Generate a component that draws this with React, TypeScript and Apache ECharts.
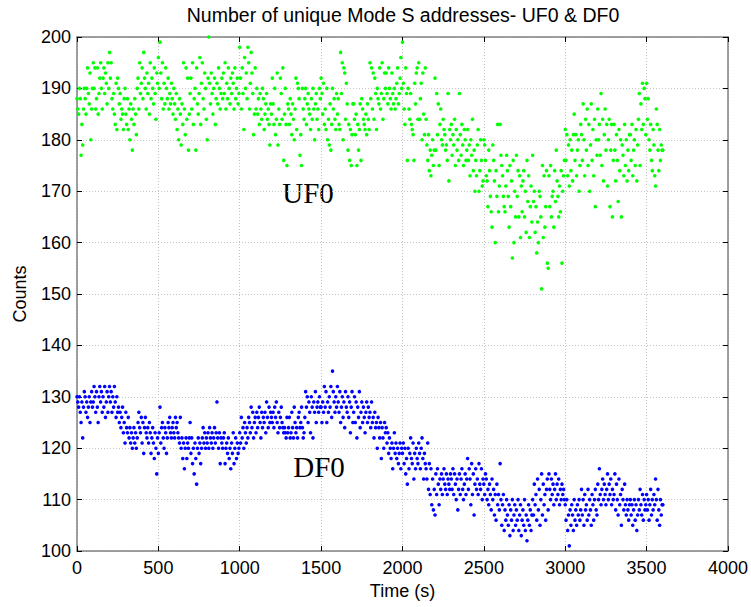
import React, { useEffect, useRef } from "react";
import * as echarts from "echarts";

// Sampling interval of the counts (seconds)
const SAMPLE_INTERVAL = 5;

// X axis tick values (s) and Y axis ticks (counts)
const xTicks = [0, 500, 1000, 1500, 2000, 2500, 3000, 3500, 4000];
const yTicks = [100, 110, 120, 130, 140, 150, 160, 170, 180, 190, 200];

// UF0 counts, one row per 100 s
const uf0Counts = [
  188,186,185,190,188,177,183,179,186,190,188,185,190,194,189,187,193,180,186,190,
  195,190,194,186,188,194,185,189,192,195,190,186,192,194,189,193,191,187,195,190,
  197,192,195,188,186,189,185,183,191,182,192,190,187,189,184,186,185,182,188,190,
  185,183,188,182,186,180,187,184,178,186,183,188,185,181,190,192,186,195,189,191,
  194,188,197,192,190,186,193,189,191,185,195,188,192,190,187,194,189,184,193,191,
  196,190,199,193,188,195,186,191,187,194,190,188,192,186,189,187,191,188,185,190,
  187,184,189,182,186,180,188,185,179,187,183,195,186,181,194,184,192,178,185,189,
  192,186,195,183,188,190,178,194,187,185,189,196,183,191,195,188,186,193,190,184,
  180,192,200,191,187,193,189,185,190,192,183,188,191,187,194,190,186,189,192,188,
  193,189,195,186,191,188,194,190,187,192,189,193,191,186,194,188,190,192,187,189,
  198,192,186,194,189,182,196,190,193,188,198,195,186,191,197,193,189,181,185,194,
  186,190,185,188,183,189,186,184,190,188,182,185,187,189,184,186,183,179,187,185,
  192,187,183,190,181,184,193,179,186,183,192,189,184,194,176,185,190,183,175,187,
  186,183,188,185,181,187,184,180,186,192,182,191,190,188,177,181,175,190,186,184,
  188,190,183,187,189,186,185,182,188,184,190,186,180,187,189,184,186,182,190,188,
  192,189,185,191,183,186,182,190,180,184,179,187,178,183,190,186,188,184,182,189,
  185,188,183,182,197,189,195,180,194,193,184,191,187,178,183,176,182,175,181,187,
  187,184,181,185,175,183,178,182,187,176,188,186,184,183,182,185,181,187,184,182,
  195,188,194,186,193,184,192,189,182,190,188,187,194,186,189,195,184,188,193,190,
  193,189,187,194,190,188,186,193,189,187,190,186,188,191,194,187,189,192,196,190,
  199,191,186,183,194,189,176,190,186,184,189,183,182,181,176,191,187,193,194,184,
  195,184,188,191,180,193,185,181,194,184,179,176,181,174,178,173,177,180,175,178,
  192,178,189,181,187,175,183,186,180,179,184,182,181,178,179,176,189,172,182,180,
  183,177,181,179,184,175,182,178,180,176,189,181,177,183,179,175,182,180,176,178,
  182,176,179,173,180,177,184,174,178,170,176,173,179,182,170,174,180,176,171,172,
  180,179,176,173,172,167,178,174,169,166,163,179,176,172,160,174,169,183,166,171,
  183,177,175,173,169,167,166,171,177,174,169,163,175,167,172,157,176,160,170,165,
  177,169,174,165,173,161,171,166,172,174,165,170,162,176,168,173,161,167,171,164,
  177,168,170,162,167,158,164,160,170,169,165,151,175,161,173,163,167,174,156,155,
  173,167,175,165,169,170,163,174,168,178,172,169,165,171,166,174,156,170,173,176,
  182,176,181,173,179,171,180,174,178,172,181,185,176,181,173,178,180,170,175,183,
  181,176,187,180,173,184,178,186,175,183,170,179,187,176,182,173,184,167,180,177,
  186,180,183,177,189,175,184,172,181,186,178,183,171,180,184,167,178,183,165,176,
  183,178,172,181,176,168,182,174,180,165,179,177,173,183,175,180,172,178,174,181,
  181,176,183,173,178,180,175,182,172,179,184,189,175,187,182,191,183,190,188,181,
  191,184,188,180,178,183,176,174,182,179,173,171,186,183,178,174,182,176,179,178,
  178,
];

// DF0 counts, one row per 100 s
const df0Counts = [
  130,129,128,130,127,125,129,122,128,131,130,127,129,126,128,130,125,129,131,128,
  129,132,130,127,131,128,125,130,132,129,131,127,130,128,132,126,129,131,127,130,
  132,129,131,127,130,128,132,129,126,130,127,128,125,127,124,126,128,123,125,121,
  127,124,123,126,122,124,121,123,120,122,124,121,123,120,122,125,127,124,123,126,
  121,125,119,124,126,123,122,124,121,125,123,119,122,124,121,118,123,120,115,122,
  119,123,128,121,124,125,122,120,124,123,119,122,125,124,126,123,122,124,125,123,
  122,126,124,125,123,122,121,126,120,122,118,121,116,120,122,118,121,120,122,125,
  119,122,117,120,115,121,118,113,120,122,119,121,117,120,122,124,121,123,120,122,
  121,123,120,124,122,121,123,120,122,124,121,123,129,122,120,123,117,122,121,120,
  122,123,117,120,121,119,122,118,120,116,121,119,123,117,120,122,118,121,119,120,
  123,121,126,122,124,120,125,123,121,124,122,126,125,123,128,124,127,122,125,126,
  123,127,124,126,128,125,122,127,124,126,125,127,123,129,126,124,128,125,127,126,
  125,127,124,128,126,129,125,123,127,124,126,128,125,124,123,124,123,122,126,123,
  124,126,122,123,127,124,122,128,125,123,124,122,126,127,124,125,128,124,122,123,
  126,131,128,130,125,129,127,123,130,128,122,129,127,131,125,128,129,127,130,128,
  128,125,129,127,132,128,131,125,129,127,130,128,132,126,135,131,129,127,130,128,
  132,129,127,131,125,128,130,126,129,124,131,128,127,130,126,129,123,128,131,125,
  127,130,125,129,122,128,126,131,124,127,129,125,128,126,123,127,129,125,128,126,
  127,124,129,125,126,122,127,124,125,120,126,124,122,125,118,124,122,120,125,123,
  124,121,123,119,122,120,118,121,116,120,123,119,121,118,120,117,119,121,116,120,
  119,121,117,120,115,118,113,120,116,119,122,118,117,121,114,119,116,120,118,117,
  121,119,116,120,122,118,114,119,117,116,114,121,112,117,111,116,109,114,108,112,
  107,115,111,116,113,109,114,112,115,111,114,116,113,112,115,111,114,113,112,115,
  114,112,116,111,115,113,110,114,108,112,115,111,114,116,112,110,113,115,111,114,
  118,112,116,114,109,117,111,115,107,113,116,112,114,111,117,113,112,116,110,114,
  113,111,115,114,110,112,109,113,111,108,114,110,112,107,111,106,113,109,111,108,
  117,110,105,109,111,104,108,106,110,107,105,109,103,108,106,110,104,107,109,105,
  108,106,110,104,107,109,103,106,108,105,110,104,107,102,106,109,105,108,104,107,
  110,107,113,109,111,106,114,108,112,105,110,115,107,113,109,111,106,112,114,108,
  115,112,110,114,111,113,109,112,115,110,113,111,114,109,112,110,113,111,112,110,
  109,106,110,104,107,101,108,105,109,107,104,110,106,108,105,109,107,110,106,108,
  112,107,110,105,111,108,109,106,112,107,110,108,105,111,109,106,110,112,108,107,
  113,110,116,111,109,112,114,110,113,111,109,112,115,110,113,111,114,109,112,110,
  111,115,108,113,110,107,114,109,111,105,112,110,108,113,109,107,110,108,106,109,
  110,107,109,105,108,110,106,109,104,107,110,108,112,109,107,111,106,110,108,109,
  111,108,110,106,109,112,107,110,108,111,109,114,110,106,112,108,105,110,107,109,
  109,
];

const titleText = "Number of unique Mode S addresses- UF0 & DF0";
const xName = "Time (s)";
const yName = "Counts";
const seriesNames = ["UF0", "DF0"];

const SANS = "'Liberation Sans', Arial, Helvetica, sans-serif";
const SERIF = "'Liberation Serif', 'Times New Roman', serif";

export default function App() {
  const ref = useRef<HTMLDivElement>(null);

  useEffect(() => {
    if (!ref.current) return;
    const chart = echarts.init(ref.current, undefined, { renderer: "svg" });

    const toData = (arr: number[]) => arr.map((v, i) => [i * SAMPLE_INTERVAL, v]);

    const axisLine = { show: true, onZero: false, lineStyle: { color: "#808080", width: 1.5 } };
    const axisTick = { show: true, inside: true, length: 5, lineStyle: { color: "#000", width: 1 } };
    const gridLine = { show: true, lineStyle: { color: "#c4c4c4", width: 1, type: [1, 2] } };

    const xMin = xTicks[0];
    const xMax = xTicks[xTicks.length - 1];
    const xInt = xTicks[1] - xTicks[0];
    const yMin = yTicks[0];
    const yMax = yTicks[yTicks.length - 1];
    const yInt = yTicks[1] - yTicks[0];

    chart.setOption({
      animation: false,
      backgroundColor: "#ffffff",
      grid: { left: 77, right: 23, top: 37, bottom: 56, containLabel: false },
      xAxis: [
        {
          type: "value", min: xMin, max: xMax, interval: xInt, position: "bottom",
          name: xName, nameLocation: "middle", nameGap: 30,
          nameTextStyle: { fontSize: 18, color: "#000", fontFamily: SANS },
          axisLine, axisTick,
          axisLabel: { fontSize: 18, color: "#000", fontFamily: SANS, margin: 8, formatter: (v: number) => String(v) },
          splitLine: gridLine,
        },
        {
          type: "value", min: xMin, max: xMax, interval: xInt, position: "top",
          axisLine, axisTick, axisLabel: { show: false }, splitLine: { show: false },
        },
      ],
      yAxis: [
        {
          type: "value", min: yMin, max: yMax, interval: yInt, position: "left",
          name: yName, nameLocation: "middle", nameGap: 48,
          nameTextStyle: { fontSize: 18, color: "#000", fontFamily: SANS },
          axisLine, axisTick,
          axisLabel: { fontSize: 18, color: "#000", fontFamily: SANS, margin: 6, formatter: (v: number) => String(v) },
          splitLine: gridLine,
        },
        {
          type: "value", min: yMin, max: yMax, interval: yInt, position: "right",
          axisLine, axisTick, axisLabel: { show: false }, splitLine: { show: false },
        },
      ],
      series: [
        {
          name: seriesNames[0], type: "scatter", data: toData(uf0Counts),
          symbol: "circle", symbolSize: 3.6,
          itemStyle: { color: "#00ff00", opacity: 1 }, xAxisIndex: 0, yAxisIndex: 0,
        },
        {
          name: seriesNames[1], type: "scatter", data: toData(df0Counts),
          symbol: "circle", symbolSize: 3.6,
          itemStyle: { color: "#0000ff", opacity: 1 }, xAxisIndex: 0, yAxisIndex: 0,
        },
      ],
      graphic: [
        {
          type: "text", x: 403, y: 14.5,
          style: { text: titleText, fill: "#000", fontSize: 19.5, fontFamily: SANS, align: "center", verticalAlign: "middle" },
        },
        {
          type: "text", x: 308, y: 193,
          style: { text: seriesNames[0], fill: "#000", fontSize: 29, fontFamily: SERIF, align: "center", verticalAlign: "middle" },
        },
        {
          type: "text", x: 319, y: 467,
          style: { text: seriesNames[1], fill: "#000", fontSize: 29, fontFamily: SERIF, align: "center", verticalAlign: "middle" },
        },
      ],
    });

    return () => chart.dispose();
  }, []);

  return (
    <div
      ref={ref}
      style={{ position: "fixed", left: 0, top: 0, width: 751, height: 607, background: "#fff" }}
    />
  );
}
